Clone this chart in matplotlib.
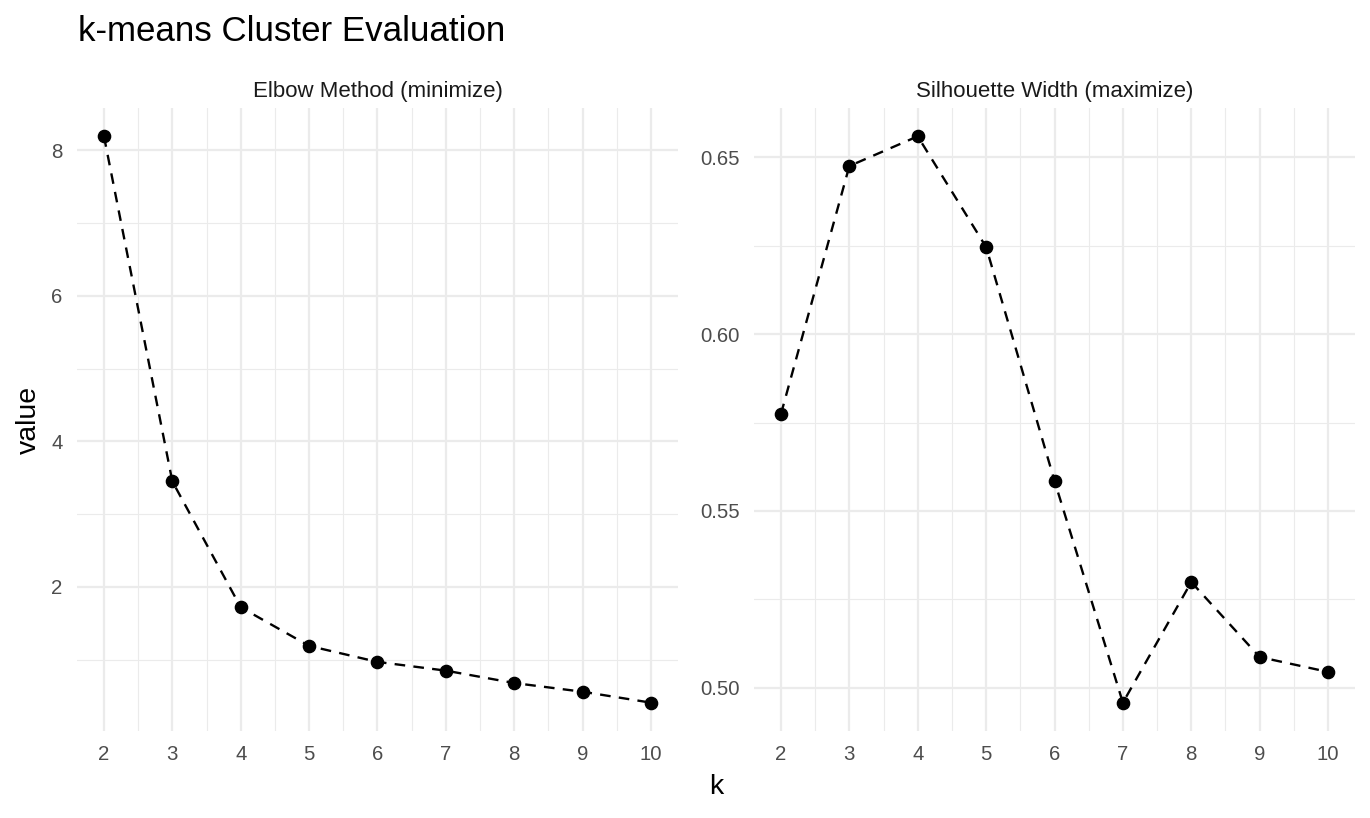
import matplotlib
matplotlib.use("Agg")
import matplotlib.pyplot as plt
from matplotlib.ticker import MultipleLocator

plt.rcParams['font.family'] = ['Liberation Sans', 'DejaVu Sans']

# data
k = [2, 3, 4, 5, 6, 7, 8, 9, 10]
elbow = [8.19, 3.45, 1.72, 1.19, 0.97, 0.85, 0.68, 0.56, 0.41]
silhouette = [0.5774, 0.6475, 0.6559, 0.6246, 0.5585, 0.4958, 0.5299, 0.5087, 0.5045]

panel_titles = ["Elbow Method (minimize)", "Silhouette Width (maximize)"]
series = [elbow, silhouette]
y_major = [2, 0.05]

W, H = 1370, 818
fig = plt.figure(figsize=(W / 100, H / 100), dpi=100)

# panel boxes in pixels (left, top, right, bottom)
boxes = [(76.6, 108, 678.4, 731), (753.6, 108, 1355.4, 731)]

def expand(vals):
    lo, hi = min(vals), max(vals)
    pad = (hi - lo) * 0.05
    return lo - pad, hi + pad

for box, vals, title, step in zip(boxes, series, panel_titles, y_major):
    l, t, r, b = box
    ax = fig.add_axes([l / W, 1 - b / H, (r - l) / W, (b - t) / H])
    ax.set_facecolor("white")
    for s in ax.spines.values():
        s.set_visible(False)

    ax.set_xlim(*expand(k))
    ax.set_ylim(*expand(vals))
    ax.xaxis.set_major_locator(MultipleLocator(1))
    ax.xaxis.set_minor_locator(MultipleLocator(0.5))
    ax.yaxis.set_major_locator(MultipleLocator(step))
    ax.yaxis.set_minor_locator(MultipleLocator(step / 2))

    ax.grid(which="major", color="#EBEBEB", linewidth=1.6)
    ax.grid(which="minor", color="#EBEBEB", linewidth=0.8)
    ax.set_axisbelow(True)
    ax.tick_params(which="both", length=0, pad=10, labelsize=14.7, labelcolor="#4D4D4D")
    if step < 1:
        ax.yaxis.set_major_formatter(plt.FuncFormatter(lambda v, p: f"{v:.2f}"))

    ax.plot(k, vals, color="black", linestyle=(0, (4.5, 3.5)), linewidth=1.7,
            dash_capstyle="butt", zorder=3)
    ax.plot(k, vals, "o", color="black", markersize=8.8, zorder=4)

    ax.set_title(title, fontsize=16, color="#1A1A1A", pad=8)

fig.text(78 / W, 1 - 41 / H, "k-means Cluster Evaluation", fontsize=25.1,
         ha="left", va="baseline", color="black")
fig.text(716 / W, 1 - 787 / H, "k", fontsize=20.5, ha="center", va="center")
fig.text(29 / W, 1 - 420 / H, "value", fontsize=20.5, ha="center", va="center",
         rotation=90)

fig.savefig("out.png", dpi=100, facecolor="white")
